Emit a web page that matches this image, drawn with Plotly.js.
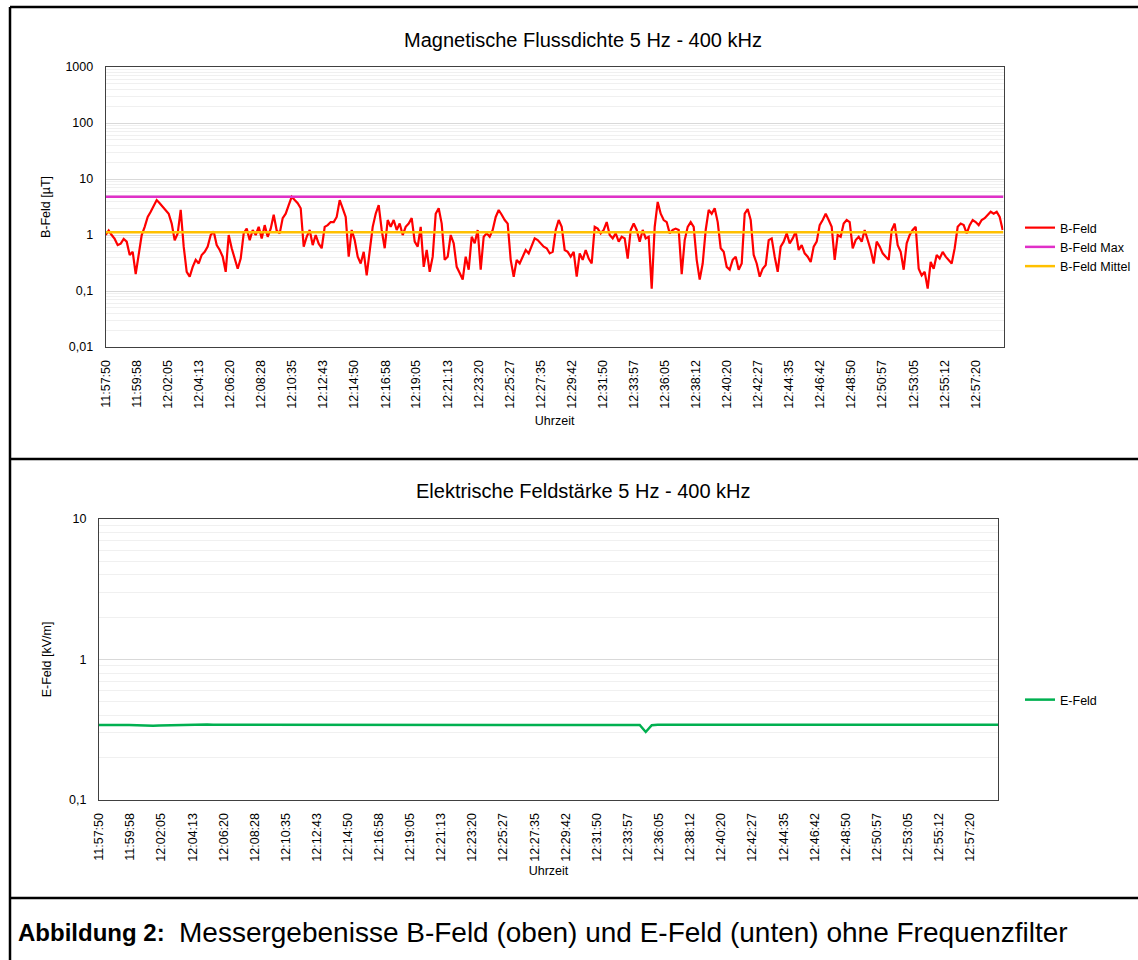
<!DOCTYPE html>
<html><head><meta charset="utf-8">
<script src="https://cdn.plot.ly/plotly-3.0.1.min.js"></script>
<style>html,body{margin:0;padding:0;background:#fff}#chart{width:1138px;height:960px}</style>
</head><body><div id="chart"></div>
<script>
// ---------- data ----------
const tickLabels = ['11:57:50','11:59:58','12:02:05','12:04:13','12:06:20','12:08:28','12:10:35','12:12:43','12:14:50','12:16:58','12:19:05','12:21:13','12:23:20','12:25:27','12:27:35','12:29:42','12:31:50','12:33:57','12:36:05','12:38:12','12:40:20','12:42:27','12:44:35','12:46:42','12:48:50','12:50:57','12:53:05','12:55:12','12:57:20'];
const yTicksB = [0.01, 0.1, 1, 10, 100, 1000];
const yTickTextB = ['0,01', '0,1', '1', '10', '100', '1000'];
const yTicksE = [0.1, 1, 10];
const yTickTextE = ['0,1', '1', '10'];
const startTime = '11:57:50';
const bStepSec = 12.31;   // sampling interval of the B-Feld readings
const eStepSec = 24.62;   // sampling interval of the E-Feld readings
const spanSec = 3684;     // shown time span

const bFeld = [
1.0,1.2,1.0,0.85,0.66,0.7,0.85,0.76,0.44,0.5,
0.2,0.41,1.0,1.4,2.1,2.6,3.4,4.2,3.7,3.2,
2.8,2.4,1.6,0.8,1.07,2.8,0.62,0.22,0.18,0.27,
0.36,0.31,0.44,0.5,0.62,1.0,1.15,0.66,0.54,0.41,
0.22,1.0,0.58,0.36,0.25,0.38,1.07,1.3,0.81,1.23,
1.0,1.4,0.87,1.5,0.93,1.3,2.3,1.2,1.07,2.0,
2.4,3.4,4.8,4.2,3.7,3.0,0.62,0.93,1.23,0.66,
1.0,0.7,0.58,1.4,1.5,1.7,1.7,2.1,4.2,3.0,
2.1,0.41,1.23,0.81,0.41,0.31,0.5,0.19,0.5,1.4,
2.4,3.4,1.23,0.58,1.85,1.4,1.85,1.23,
1.6,1.0,1.4,1.6,2.0,0.76,0.62,1.4,0.27,0.54,
0.22,0.41,2.4,3.0,1.6,0.36,0.41,1.0,0.71,0.27,
0.21,0.16,0.41,0.24,0.93,0.71,1.23,0.24,0.93,1.07,
0.93,1.23,2.1,2.8,2.3,1.85,1.6,0.36,0.18,0.36,
0.31,0.41,0.54,0.47,0.62,0.87,0.81,0.71,0.62,0.58,
0.47,0.5,1.23,1.85,1.4,0.54,0.5,0.41,0.5,0.18,
0.47,0.36,0.54,0.38,0.31,1.4,1.3,1.07,1.23,1.7,
1.0,0.87,1.07,0.76,0.93,0.87,0.38,1.23,1.6,1.23,
0.76,1.23,0.87,0.93,0.11,1.4,3.9,2.4,1.85,1.7,
1.07,1.23,1.3,1.23,
0.2,0.81,1.4,1.7,1.4,0.36,0.16,0.31,1.23,2.8,
2.4,3.0,1.7,0.58,0.5,0.27,0.24,0.36,0.41,0.24,
0.31,2.4,2.9,1.85,0.44,0.31,0.18,0.25,0.29,0.81,
0.87,0.41,0.22,0.62,0.76,1.07,0.71,0.87,1.15,0.54,
0.66,0.47,0.41,0.33,0.62,0.76,1.5,1.85,2.4,1.85,
1.4,0.36,1.0,0.93,1.6,1.85,1.7,0.58,0.81,0.93,
0.76,1.23,0.81,0.54,0.31,0.76,0.62,0.47,0.41,0.36,
1.23,1.6,0.66,0.5,0.24,0.71,1.0,1.23,1.4,0.25,
0.19,0.22,0.11,0.33,0.25,0.44,0.38,0.5,0.41,0.36,
0.31,0.58,1.4,1.6,1.5,1.07,1.5,1.85,1.7,1.5,
1.85,2.0,2.3,2.6,2.4,2.6,2.1,1.23
];
const bFeldMax = 4.83;
const bFeldMittel = 1.12;

const eFeld = [
0.342,0.343,0.342,0.341,0.342,0.342,0.340,0.339,0.338,0.338,
0.339,0.340,0.341,0.342,0.343,0.343,0.342,0.343,0.344,0.343,
0.343,0.342,0.343,0.344,0.344,0.343,0.342,0.343,0.343,0.344,
0.344,0.343,0.343,0.344,0.345,0.344,0.343,0.344,0.344,0.343,
0.344,0.344,0.345,0.344,0.343,0.344,0.344,0.345,0.344,0.344,
0.343,0.343,0.342,0.342,0.341,0.342,0.343,0.343,0.344,0.344,
0.344,0.343,0.344,0.344,0.345,0.344,0.344,0.343,0.344,0.344,
0.344,0.345,0.344,0.343,0.344,0.344,0.343,0.343,0.344,0.344,
0.343,0.342,0.343,0.343,0.344,0.343,0.343,0.344,0.343,0.343,
0.342,0.305,0.341,0.343,0.343,0.344,0.344,0.343,0.344,0.344,
0.344,0.343,0.343,0.344,0.343,0.342,0.343,0.344,0.344,0.345,
0.344,0.344,0.344,0.345,0.345,0.344,0.344,0.343,0.344,0.344,
0.344,0.345,0.344,0.344,0.343,0.344,0.344,0.343,0.343,0.344,
0.344,0.343,0.343,0.344,0.344,0.343,0.343,0.342,0.343,0.343,
0.343,0.344,0.343,0.343,0.343,0.344,0.344,0.343,0.343,0.343,
0.343
];

// ---------- helpers ----------
function toMs(hms) {
  const p = hms.split(':').map(Number);
  return Date.UTC(2000, 0, 1, p[0], p[1], p[2]);
}
const t0 = toMs(startTime);
const tEnd = t0 + spanSec * 1000;
const bX = bFeld.map((_, i) => t0 + i * bStepSec * 1000);
const eX = eFeld.map((_, i) => t0 + i * eStepSec * 1000);
const tickVals = tickLabels.map(toMs);

const W = 1138, H = 960;
const px = v => v / W;
const py = v => 1 - v / H;

const FONT = 'Liberation Sans, Arial, sans-serif';
const TICK = 12.5;

const traces = [
  {x: bX, y: bFeld, type: 'scatter', mode: 'lines', name: 'B-Feld',
   line: {color: '#ff0000', width: 2.2}, xaxis: 'x', yaxis: 'y', legend: 'legend'},
  {x: [t0, tEnd], y: [bFeldMax, bFeldMax], type: 'scatter', mode: 'lines', name: 'B-Feld Max',
   line: {color: '#e030c8', width: 2.5}, xaxis: 'x', yaxis: 'y', legend: 'legend'},
  {x: [t0, tEnd], y: [bFeldMittel, bFeldMittel], type: 'scatter', mode: 'lines', name: 'B-Feld Mittel',
   line: {color: '#ffc000', width: 2.5}, xaxis: 'x', yaxis: 'y', legend: 'legend'},
  {x: eX, y: eFeld, type: 'scatter', mode: 'lines', name: 'E-Feld',
   line: {color: '#00b050', width: 2.5}, xaxis: 'x2', yaxis: 'y2', legend: 'legend2'}
];

const xCommon = {
  type: 'date', range: [t0, tEnd], tickmode: 'array', tickvals: tickVals, ticktext: tickLabels,
  tickangle: -90, showgrid: false, zeroline: false, showline: true, linecolor: '#404040',
  linewidth: 1, mirror: true, ticks: '', ticklabelstandoff: 7, automargin: false,
  tickfont: {family: FONT, size: TICK, color: '#000'}
};
const yCommon = {
  type: 'log', tickmode: 'array', showgrid: true, gridcolor: '#d9d9d9', gridwidth: 1,
  zeroline: false, showline: true, linecolor: '#404040', linewidth: 1, mirror: true,
  ticks: '', ticklabelstandoff: 9, automargin: false,
  minor: {dtick: 'D1', showgrid: true, gridcolor: '#f0f0f0', gridwidth: 1, ticks: ''},
  tickfont: {family: FONT, size: TICK, color: '#000'}
};

const lineShape = (x0, y0, x1, y1) => ({type: 'line', xref: 'paper', yref: 'paper',
  x0: px(x0), y0: py(y0), x1: px(x1), y1: py(y1), line: {color: '#000', width: 2.5}});

const layout = {
  width: W, height: H,
  margin: {l: 0, r: 0, t: 0, b: 0, pad: 0},
  paper_bgcolor: '#fff', plot_bgcolor: '#fff',
  font: {family: FONT, size: 12, color: '#000'},
  showlegend: true,
  title: {text: 'Magnetische Flussdichte 5 Hz - 400 kHz', x: px(583), y: py(40),
          xanchor: 'center', yanchor: 'middle', xref: 'paper', yref: 'paper',
          font: {family: FONT, size: 20, color: '#000'}},
  xaxis: Object.assign({}, xCommon, {domain: [px(105.7), px(1003.5)], anchor: 'y',
    title: {text: 'Uhrzeit', standoff: 8, font: {family: FONT, size: 12.5}}}),
  yaxis: Object.assign({}, yCommon, {domain: [py(347), py(67)], anchor: 'x', range: [-2, 3],
    tickvals: yTicksB, ticktext: yTickTextB,
    title: {text: 'B-Feld [µT]', standoff: 12, font: {family: FONT, size: 12.5}}}),
  xaxis2: Object.assign({}, xCommon, {domain: [px(99), px(998)], anchor: 'y2',
    title: {text: 'Uhrzeit', standoff: 5, font: {family: FONT, size: 12.5}}}),
  yaxis2: Object.assign({}, yCommon, {domain: [py(800), py(519)], anchor: 'x2', range: [-1, 1],
    tickvals: yTicksE, ticktext: yTickTextE,
    title: {text: 'E-Feld [kV/m]', standoff: 14, font: {family: FONT, size: 12.5}}}),
  legend: {x: px(1020), y: py(213), xanchor: 'left', yanchor: 'top', bgcolor: 'rgba(0,0,0,0)',
    font: {family: FONT, size: 12.5}, itemwidth: 30, tracegroupgap: 0},
  legend2: {x: px(1020), y: py(700), xanchor: 'left', yanchor: 'middle', bgcolor: 'rgba(0,0,0,0)',
    font: {family: FONT, size: 12.5}, itemwidth: 30},
  annotations: [
    {text: 'Elektrische Feldstärke 5 Hz - 400 kHz', xref: 'paper', yref: 'paper',
     x: px(583), y: py(491), xanchor: 'center', yanchor: 'middle', showarrow: false,
     font: {family: FONT, size: 20, color: '#000'}},
    {text: '<b>Abbildung 2:</b>', xref: 'paper', yref: 'paper', x: px(16), y: py(932),
     xanchor: 'left', yanchor: 'middle', showarrow: false,
     font: {family: FONT, size: 24, color: '#000'}},
    {text: 'Messergebenisse B-Feld (oben) und E-Feld (unten) ohne Frequenzfilter', xref: 'paper', yref: 'paper',
     x: px(177), y: py(932), xanchor: 'left', yanchor: 'middle', showarrow: false,
     font: {family: FONT, size: 28, color: '#000'}}
  ],
  shapes: [
    lineShape(10, 7, 1138, 7),
    lineShape(10, 7, 10, 960),
    lineShape(10, 459, 1138, 459),
    lineShape(10, 898, 1138, 898)
  ]
};

Plotly.newPlot('chart', traces, layout, {displayModeBar: false, staticPlot: true});
</script>
</body></html>
